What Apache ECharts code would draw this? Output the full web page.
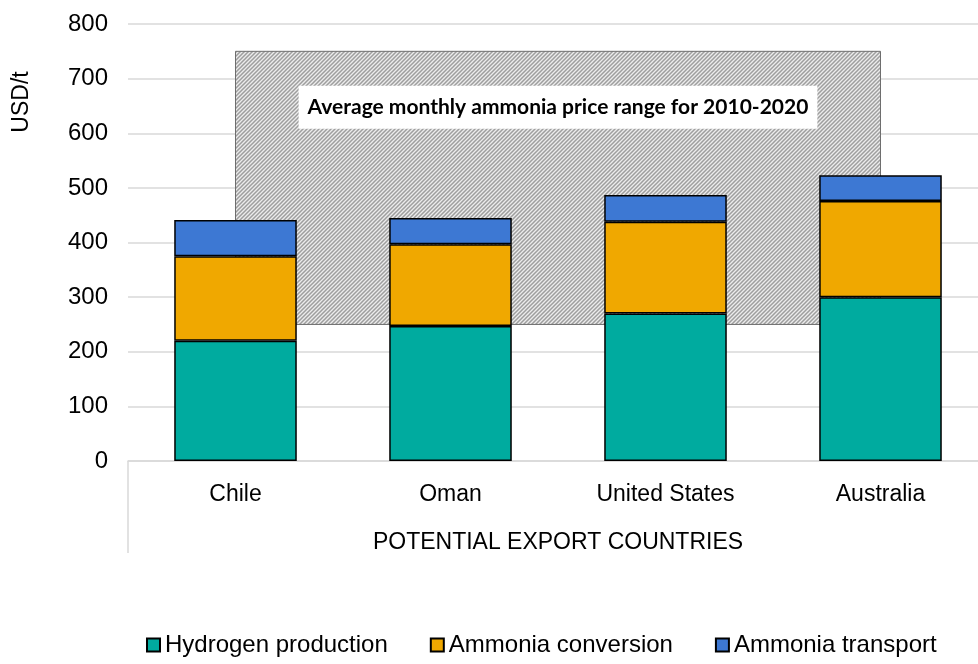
<!DOCTYPE html>
<html>
<head>
<meta charset="utf-8">
<script src="https://cdn.jsdelivr.net/npm/echarts@6/dist/echarts.min.js"></script>
<style>
  html, body { margin: 0; padding: 0; background: #fff; }
  #chart { width: 978px; height: 664px; }
</style>
</head>
<body>
<div id="chart"></div>
<script>
// data
const countries = ["Chile", "Oman", "United States", "Australia"];
const hydrogen = [220, 247, 270, 300];
const conversion = [155, 150, 168, 176];
const transport = [66, 48, 49, 47];
const priceRange = [250, 750];
const seriesNames = ["Hydrogen production", "Ammonia conversion", "Ammonia transport"];

//hatch pattern for the price range box
const makeHatch = () => {
  const c = document.createElement("canvas");
  c.width = 4;
  c.height = 4;
  const ctx = c.getContext("2d");
  ctx.fillStyle = "#ececec";
  ctx.fillRect(0, 0, 4, 4);
  ctx.strokeStyle = "#9e9e9e";
  ctx.lineWidth = 1.5;
  ctx.beginPath();
  ctx.moveTo(0, 4);
  ctx.lineTo(4, 0);
  ctx.moveTo(-1, 1);
  ctx.lineTo(1, -1);
  ctx.moveTo(3, 5);
  ctx.lineTo(5, 3);
  ctx.stroke();
  return c;
};

const font = "'Liberation Sans', Arial, sans-serif";
const barStyle = (color) => ({ color: color, borderColor: "#000", borderWidth: 1.5 });

const chart = echarts.init(document.getElementById("chart"));
chart.setOption({
  animation: false,
  textStyle: { fontFamily: font },
  grid: { left: 128, width: 860, top: 24, bottom: 203, outerBoundsMode: "none" },
  legend: {
    data: seriesNames,
    bottom: 2,
    left: 141,
    icon: "rect",
    itemWidth: 13,
    itemHeight: 13,
    itemGap: 42,
    textStyle: { fontSize: 24, color: "#000", fontFamily: font },
  },
  xAxis: [
    {
      type: "category",
      data: countries,
      name: "POTENTIAL EXPORT COUNTRIES",
      nameLocation: "middle",
      nameGap: 70,
      nameTextStyle: { fontSize: 23, color: "#000" },
      axisLine: { lineStyle: { color: "#d9d9d9", width: 1.5 } },
      axisTick: {
        show: true,
        interval: (i) => i === 0,
        length: 92,
        lineStyle: { color: "#d9d9d9", width: 1.5 },
      },
      axisLabel: { fontSize: 23, color: "#000", margin: 22 },
    },
    {
      //hidden value axis so the price box runs from first to last category centre
      type: "value",
      min: -0.5,
      max: countries.length - 0.5,
      show: false,
    },
  ],
  yAxis: {
    type: "value",
    min: 0,
    max: 800,
    interval: 100,
    axisLine: { show: false },
    axisTick: { show: false },
    axisLabel: { fontSize: 24, color: "#000", margin: 20 },
    splitLine: { lineStyle: { color: "#d9d9d9", width: 1.5 } },
  },
  graphic: [
    {
      type: "text",
      x: 22,
      y: 102,
      rotation: Math.PI / 2,
      style: {
        text: "USD/t",
        font: "23px " + font,
        fill: "#000",
        align: "center",
        verticalAlign: "middle",
      },
    },
  ],
  series: [
    {
      name: "price range",
      type: "line",
      xAxisIndex: 1,
      data: [],
      silent: true,
      markArea: {
        silent: true,
        itemStyle: {
          color: { image: makeHatch(), repeat: "repeat" },
          borderColor: "#6e6e6e",
          borderWidth: 1,
        },
        label: {
          show: true,
          position: "insideTop",
          distance: 35,
          backgroundColor: "#fff",
          padding: [11, 9, 11, 9],
          fontFamily: "Lato, 'Open Sans', sans-serif",
          fontWeight: "bold",
          fontSize: 21,
          color: "#000",
        },
        data: [
          [
            { name: "Average monthly ammonia price range for 2010-2020", coord: [0, priceRange[1]] },
            { coord: [countries.length - 1, priceRange[0]] },
          ],
        ],
      },
    },
    {
      name: seriesNames[0],
      type: "bar",
      stack: "cost",
      barWidth: "57%",
      data: hydrogen,
      itemStyle: barStyle("#00ab9f"),
    },
    {
      name: seriesNames[1],
      type: "bar",
      stack: "cost",
      data: conversion,
      itemStyle: barStyle("#f0a800"),
    },
    {
      name: seriesNames[2],
      type: "bar",
      stack: "cost",
      data: transport,
      itemStyle: barStyle("#3d78d3"),
    },
  ],
});
</script>
</body>
</html>
